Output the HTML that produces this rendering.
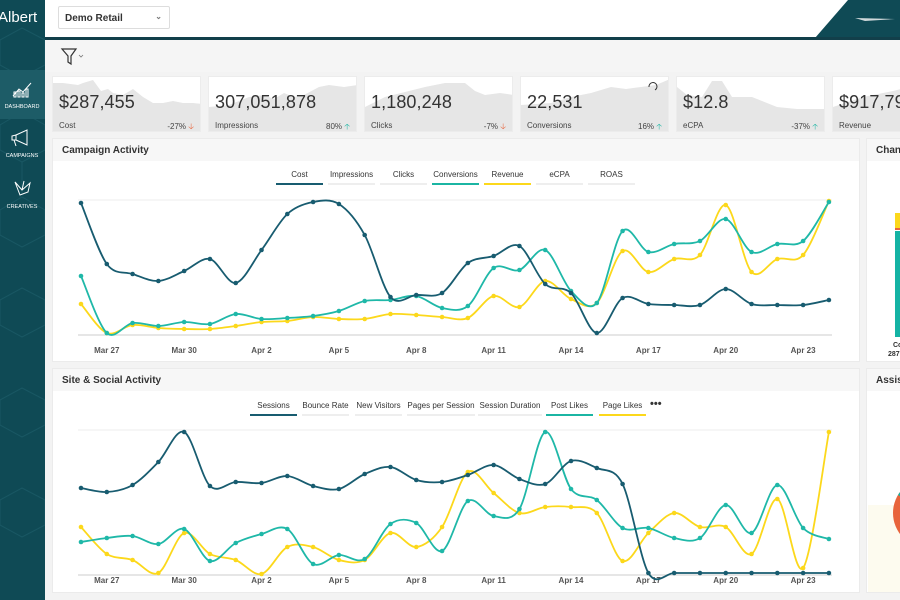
<!DOCTYPE html>
<html><head><meta charset="utf-8">
<style>
*{margin:0;padding:0;box-sizing:border-box}
html,body{width:900px;height:600px;overflow:hidden}
body{background:#f3f3f3;font-family:"Liberation Sans",sans-serif;position:relative;color:#333}
.abs{position:absolute}
#side{left:0;top:0;width:45px;height:600px;background:#0f4a55}
#top{left:45px;top:0;width:855px;height:38px;background:#fff;overflow:hidden}
#topline{left:45px;top:37px;width:855px;height:3px;background:#123f4a}
.card{position:absolute;top:76px;width:149px;height:56px;background:#fff;border:1px solid #ececec;overflow:hidden}
.card .v{position:absolute;left:6px;top:15px;font-size:18px;color:#333;letter-spacing:0.1px}
.card .l{position:absolute;left:6px;top:44px;font-size:8px;color:#444}
.card .p{position:absolute;right:6px;top:44px;font-size:8px;color:#444}
.panel{position:absolute;background:#fff;border:1px solid #ebebeb;overflow:hidden}
.ph{position:absolute;left:0;top:0;width:808px;height:22px;background:#f7f7f7;font-size:10px;font-weight:bold;color:#333;padding:6px 0 0 9px;white-space:nowrap}
.tab{position:absolute;font-size:8px;color:#333;text-align:center;width:47px;border-bottom:2px solid #eee;padding-bottom:4px;white-space:nowrap}
.ax{font-size:8px;fill:#555;font-weight:bold;font-family:"Liberation Sans",sans-serif}
</style></head><body>
<div id="side" class="abs">
<svg width="45" height="600" style="position:absolute;left:0;top:0">
<g stroke="#1c5a66" stroke-width="1" fill="none" opacity="0.8">
<path d="M0 40 L22 28 L45 40 L45 65 L22 77 L0 65 Z M22 77 L22 110 M0 125 L22 112 L45 125 L45 150 L22 162 L0 150 Z M22 162 L22 195 M0 210 L22 197 L45 210 L45 235 L22 247 L0 235 Z M0 300 L22 288 L45 300 L45 325 L22 337 L0 325Z M0 400 L22 388 L45 400 L45 425 L22 437 L0 425Z M0 500 L22 488 L45 500 L45 525 L22 537 L0 525Z"/>
</g>
<rect x="0" y="70" width="45" height="49" fill="#1d5c67"/>
<text x="-2" y="22" fill="#fff" font-size="15" font-family="Liberation Sans">Albert</text>
<g stroke="#fff" stroke-width="1" fill="none"><path d="M13 96 L19 89 L23 92 L31 83"/><rect x="14" y="92" width="2" height="5"/><rect x="18" y="91" width="2" height="6"/><rect x="22" y="93" width="2" height="4"/><rect x="26" y="89" width="2" height="8"/>
<path d="M16 135 L27 130 L27 145 L16 140 Z M16 135 L12 136 L12 140 L16 140 M14 140 L16 146"/>
<path d="M15 182 L22 190 L30 183 L28 192 L20 195 Z M22 190 L24 181"/></g>
<text x="22" y="108" fill="#fff" font-size="5.5" text-anchor="middle">DASHBOARD</text>
<text x="22" y="157" fill="#fff" font-size="5.5" text-anchor="middle">CAMPAIGNS</text>
<text x="22" y="208" fill="#fff" font-size="5.5" text-anchor="middle">CREATIVES</text>
</svg></div>
<div id="top" class="abs">
<div class="abs" style="left:13px;top:6px;width:112px;height:23px;border:1px solid #ddd;border-radius:2px;font-size:10px;font-weight:bold;padding:6px 0 0 6px;color:#333">Demo Retail<span style="position:absolute;right:7px;top:5px;font-size:8px;color:#777">&#8964;</span></div>
<svg class="abs" style="left:0;top:0" width="855" height="38"><polygon points="770,38 803,0 855,0 855,38" fill="#0f4a55"/><path d="M810 18 L850 19 L820 21 Z" fill="#cfd8da"/></svg>
</div>
<div id="topline" class="abs"></div>
<div class="abs" style="left:45px;top:40px;width:855px;height:32px;background:#f5f5f5"></div>
<svg class="abs" style="left:60px;top:46px" width="30" height="22"><path d="M2 3 L16 3 L11 10 L11 18 L8 16 L8 10 Z" fill="none" stroke="#333" stroke-width="1.2"/><path d="M19 9 L21 11 L23 9" fill="none" stroke="#777" stroke-width="0.8"/></svg>

<div class="card" style="left:52px"><svg class="abs" style="left:0;top:0" width="149" height="56"><path d="M0 6 L10 6 L25 8 L30 6 L40 3 L48 14 L55 12 L60 16 L70 18 L80 12 L90 20 L100 26 L110 26 L120 24 L130 26 L140 26 L149 27 L149 56 L0 56Z" fill="#e6e6e6"/></svg><div class="v">$287,455</div><div class="l">Cost</div><div class="p">-27% <span style="color:#e8643c">&#129123;</span></div></div>
<div class="card" style="left:208px"><svg class="abs" style="left:0;top:0" width="149" height="56"><path d="M0 30 L20 28 L40 20 L55 18 L65 22 L75 16 L85 20 L95 18 L110 10 L120 8 L135 10 L149 8 L149 56 L0 56Z" fill="#e6e6e6"/></svg><div class="v">307,051,878</div><div class="l">Impressions</div><div class="p">80% <span style="color:#1bb5a3">&#129121;</span></div></div>
<div class="card" style="left:364px"><svg class="abs" style="left:0;top:0" width="149" height="56"><path d="M0 30 L20 20 L40 15 L60 10 L80 6 L100 6 L110 14 L120 18 L135 16 L149 18 L149 56 L0 56Z" fill="#e6e6e6"/></svg><div class="v">1,180,248</div><div class="l">Clicks</div><div class="p">-7% <span style="color:#e8643c">&#129123;</span></div></div>
<div class="card" style="left:520px"><svg class="abs" style="left:0;top:0" width="149" height="56"><path d="M0 28 L30 26 L50 20 L70 16 L90 10 L105 12 L120 10 L135 8 L149 2 L149 56 L0 56Z" fill="#e6e6e6"/><path d="M128 10 A4 4 0 1 1 134 13" fill="none" stroke="#333" stroke-width="1"/></svg><div class="v">22,531</div><div class="l">Conversions</div><div class="p">16% <span style="color:#1bb5a3">&#129121;</span></div></div>
<div class="card" style="left:676px"><svg class="abs" style="left:0;top:0" width="149" height="56"><path d="M0 10 L10 18 L25 20 L35 4 L45 4 L55 20 L75 20 L90 26 L100 30 L120 32 L149 32 L149 56 L0 56Z" fill="#e6e6e6"/></svg><div class="v">$12.8</div><div class="l">eCPA</div><div class="p">-37% <span style="color:#1bb5a3">&#129121;</span></div></div>
<div class="card" style="left:832px;width:68px;border-right:none"><svg class="abs" style="left:0;top:0" width="68" height="56"><path d="M0 30 L30 20 L60 14 L68 12 L68 56 L0 56Z" fill="#e6e6e6"/></svg><div class="v" style="white-space:nowrap">$917,797</div><div class="l">Revenue</div></div>

<div class="panel" style="left:52px;top:138px;width:808px;height:224px"><div class="ph">Campaign Activity</div></div>
<div class="panel" style="left:866px;top:138px;width:34px;height:224px;border-right:none"><div class="ph">Channel</div></div>
<div class="panel" style="left:52px;top:368px;width:808px;height:225px"><div class="ph">Site &amp; Social Activity</div></div>
<div class="panel" style="left:866px;top:368px;width:34px;height:225px;border-right:none"><div class="ph">Assist</div></div>
<svg class="abs" style="left:866px;top:138px" width="34" height="462">
<rect x="29" y="75" width="6" height="15" fill="#fcd81b"/><rect x="29" y="90" width="6" height="2" fill="#e8643c"/><rect x="29" y="93" width="6" height="106" fill="#14b3a4"/>
<text x="27" y="209" font-size="7" font-weight="bold" fill="#333">Co</text><text x="22" y="218" font-size="7" font-weight="bold" fill="#333">287</text>
<rect x="2" y="367" width="32" height="87" fill="#fdfbef"/>
<circle cx="62" cy="375" r="35" fill="#e8643c"/><path d="M32 357 A35 35 0 0 1 40 348 L62 375Z" fill="#14b3a4"/>
</svg>

<div class="tab" style="left:276px;top:170px;border-color:#185c70">Cost</div>
<div class="tab" style="left:328px;top:170px">Impressions</div>
<div class="tab" style="left:380px;top:170px">Clicks</div>
<div class="tab" style="left:432px;top:170px;border-color:#1bb5a3">Conversions</div>
<div class="tab" style="left:484px;top:170px;border-color:#fcd81b">Revenue</div>
<div class="tab" style="left:536px;top:170px">eCPA</div>
<div class="tab" style="left:588px;top:170px">ROAS</div>

<div class="tab" style="left:250px;top:401px;border-color:#185c70">Sessions</div>
<div class="tab" style="left:302px;top:401px">Bounce Rate</div>
<div class="tab" style="left:355px;top:401px">New Visitors</div>
<div class="tab" style="left:407px;top:401px;width:68px">Pages per Session</div>
<div class="tab" style="left:478px;top:401px;width:64px">Session Duration</div>
<div class="tab" style="left:546px;top:401px;border-color:#1bb5a3">Post Likes</div>
<div class="tab" style="left:599px;top:401px;border-color:#fcd81b">Page Likes</div>
<div class="abs" style="left:650px;top:398px;font-size:11px;font-weight:bold">&#8226;&#8226;&#8226;</div>

<svg id="ch" class="abs" style="left:0;top:0" width="900" height="600"></svg>
<script>
var C={
 cost:[203,264,274,281,271,259,283,250,214,202,204,235,297,295,293,263,256,246,284,293,333,298,304,305,305,289,304,305,305,300],
 conv:[276,333,323,326,322,324,314,319,318,316,311,301,300,296,308,306,268,270,250,291,303,231,252,244,241,219,252,244,241,202],
 rev:[304,333,325,328,329,329,326,322,321,317,319,319,314,315,317,318,296,307,281,299,303,251,272,259,255,205,272,259,255,201],
 ses:[488,492,485,462,432,486,482,483,476,486,489,474,467,480,482,475,465,479,484,461,468,484,573,573,573,573,573,573,573,573],
 post:[542,538,536,544,529,561,543,534,529,564,555,559,524,523,551,501,516,509,432,489,500,528,528,538,538,505,533,485,528,539],
 page:[527,554,560,573,533,554,560,574,547,547,560,560,533,547,527,472,493,513,507,507,513,561,533,513,527,527,554,499,568,432]
};
function X(i){return 81+i*25.79}
function path(a){var p=a.map(function(y,i){return[X(i),y]});var d="M"+p[0][0]+" "+p[0][1];
for(var i=0;i<p.length-1;i++){var p0=p[i-1]||p[i],p1=p[i],p2=p[i+1],p3=p[i+2]||p2,t=0.16;
d+=" C"+(p1[0]+(p2[0]-p0[0])*t)+" "+(p1[1]+(p2[1]-p0[1])*t)+" "+(p2[0]-(p3[0]-p1[0])*t)+" "+(p2[1]-(p3[1]-p1[1])*t)+" "+p2[0]+" "+p2[1];}return d}
var s='';
[[200,333],[430,573]].forEach(function(r){s+='<line x1="78" x2="832" y1="'+r[0]+'" y2="'+r[0]+'" stroke="#eee"/><line x1="78" x2="832" y1="'+(r[1]+2)+'" y2="'+(r[1]+2)+'" stroke="#e6e6e6" stroke-width="2"/>';});
var L=["Mar 27","Mar 30","Apr 2","Apr 5","Apr 8","Apr 11","Apr 14","Apr 17","Apr 20","Apr 23"];
L.forEach(function(t,k){var x=X(1+3*k);s+='<text class="ax" x="'+x+'" y="353" text-anchor="middle">'+t+'</text><text class="ax" x="'+x+'" y="583" text-anchor="middle">'+t+'</text>';});
[["rev","#fcd81b"],["conv","#1fb8a8"],["cost","#185c70"],["page","#fcd81b"],["post","#1fb8a8"],["ses","#185c70"]].forEach(function(q){var a=C[q[0]];
s+='<path d="'+path(a)+'" fill="none" stroke="'+q[1]+'" stroke-width="1.8"/>';a.forEach(function(y,i){s+='<circle cx="'+X(i)+'" cy="'+y+'" r="2.3" fill="'+q[1]+'"/>';});});
document.getElementById('ch').innerHTML=s;
</script>
</body></html>
